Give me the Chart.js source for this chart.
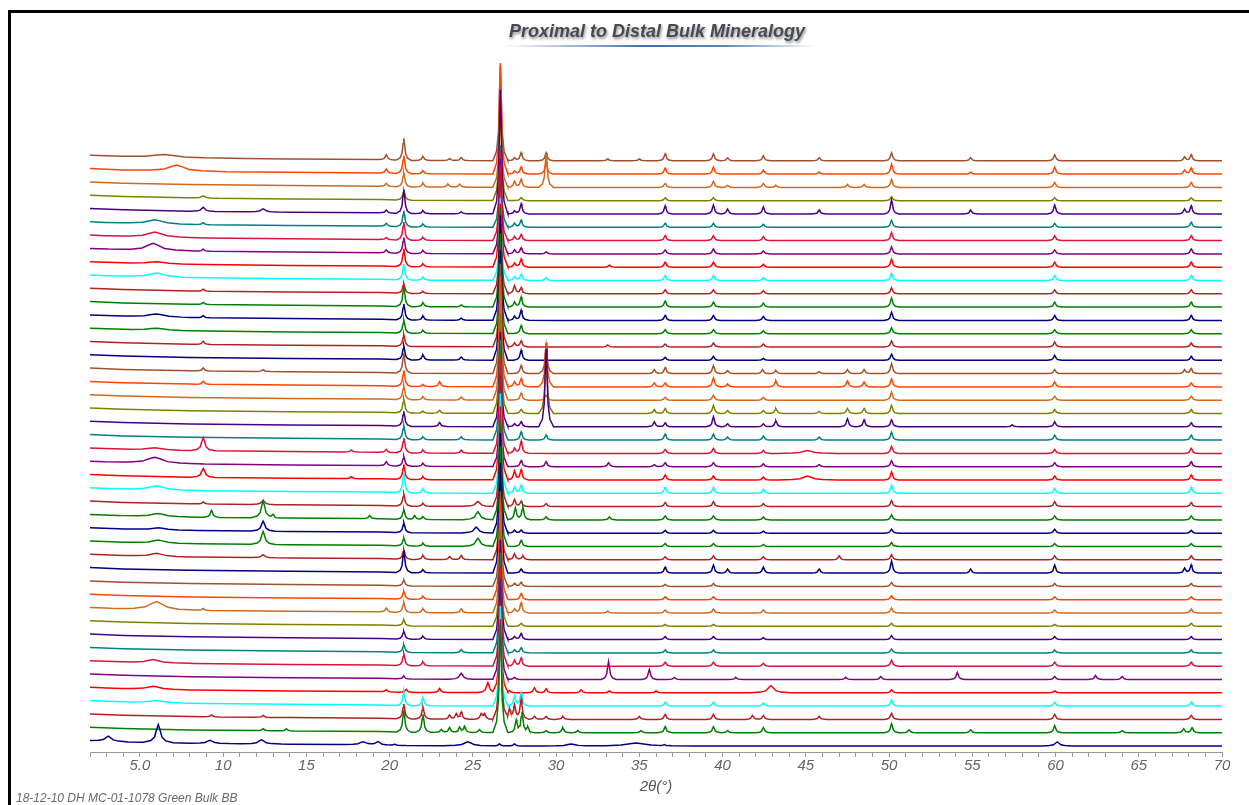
<!DOCTYPE html>
<html lang="en">
<head>
<meta charset="UTF-8">
<title>Proximal to Distal Bulk Mineralogy</title>
<script src="https://cdn.jsdelivr.net/npm/chart.js"></script>
<style>
  body { margin: 0; background: #fff; overflow: hidden; font-family: Arial, "Liberation Sans", sans-serif; }
  .frame { position: absolute; left: 8px; top: 10px; width: 1400px; height: 900px; border-left: 3px solid #000; border-top: 3px solid #000; }
  #xrd { position: absolute; left: 0; top: 0; }
  .title { position: absolute; left: 657px; top: 21px; transform: translateX(-50%); white-space: nowrap;
           font: italic bold 18px Arial, "Liberation Sans", sans-serif; color: #474a55;
           text-shadow: 1px 2px 3px rgba(0,0,0,0.45); }
  .title-rule { position: absolute; left: 503px; top: 45px; width: 314px; height: 2px;
                background: linear-gradient(to right, rgba(63,111,168,0), #3f6fa8 45%, #5b86b8 70%, rgba(63,111,168,0)); }
  .note { position: absolute; left: 16px; top: 791px; font: italic 12px Arial, "Liberation Sans", sans-serif; color: #6a6a6a; white-space: nowrap; }
</style>
</head>
<body>
<div class="frame"></div>
<canvas id="xrd" width="1249" height="805"></canvas>
<div class="title">Proximal to Distal Bulk Mineralogy</div>
<div class="title-rule"></div>
<div class="note">18-12-10 DH MC-01-1078 Green Bulk BB</div>

<script>
// 2-theta range and tick labelling
const X_MIN = 2, X_MAX = 70;
const LABEL_EVERY = 5;

// vertical spacing between stacked patterns and base offset of the lowest one
const STACK_STEP = 13.3;
const STACK_BASE = 6;
const Y_TOP = 697;

// low-angle background common to every pattern [2theta, counts]
const BG = [[2, 5.5], [4, 4.2], [8, 2.8], [14, 1.8], [19.5, 1.2], [21, 0.4], [30, 0], [70, 0]];

// peak profile, in units of half-width: [offset, fraction of height]
const PROFILE = [[-6, 0], [-3, 0.1], [-1.5, 0.3], [-0.6, 0.75], [0, 1], [0.6, 0.75], [1.5, 0.3], [3, 0.1], [6, 0]];
const W0 = 0.075;

// line colours, top pattern first (repeats every 16)
const COLORS = ['#a0522d', '#ff4500', '#d2691e', '#808000', '#4b0082', '#008080', '#dc143c', '#800080',
                '#ff0000', '#00ffff', '#b22222', '#008000', '#000080', '#008000', '#b22222', '#000080'];

// peaks per sample, top to bottom: [2theta, height, half-width?]
const s00 = [[6.5,3,0.8],[19.8,5],[20.85,22],[22.0,4],[23.6,2],[24.3,3],[26.65,95],[27.5,3],[27.9,8],[29.4,8],[33.1,2],[35.0,2],[36.55,7],[39.45,7],[40.3,3],[42.45,5],[45.8,3],[50.15,8],[54.9,3],[59.95,6],[67.75,4],[68.15,6]];
const s01 = [[7.2,6,0.5],[19.8,4],[20.85,18],[22.0,3],[26.65,111],[27.5,3],[27.9,7],[29.4,12],[36.55,6],[39.45,7],[42.45,4],[45.8,2],[50.15,10],[54.9,2],[59.95,7],[67.75,4],[68.15,6]];
const s02 = [[19.8,3],[20.85,14],[22.0,4],[23.5,3],[24.2,3],[26.65,95],[27.5,6],[27.9,8],[29.4,33],[36.55,4],[39.45,6],[40.3,2],[42.45,4],[43.2,2],[47.5,3],[48.5,3],[50.15,8],[59.95,5],[68.15,5]];
const s03 = [[8.8,2,0.15],[20.85,10],[26.65,100],[27.9,3],[36.55,3],[39.45,3],[50.15,4],[59.95,3],[68.15,3]];
const s04 = [[8.8,4,0.12],[12.4,3,0.15],[19.8,3],[20.85,24],[22.0,3],[24.3,2],[26.65,124],[27.5,3],[27.9,10],[36.55,8],[39.45,9],[40.3,5],[42.45,7],[45.8,4],[50.15,14],[54.9,4],[59.95,9],[67.75,5],[68.15,8]];
const s05 = [[5.9,4,0.5],[8.8,2],[19.8,3],[20.85,16],[22.0,3],[26.65,82],[27.5,4],[27.9,7],[36.55,4],[39.45,4],[42.45,3],[50.15,7],[59.95,4],[68.15,5]];
const s06 = [[5.9,5,0.5],[19.8,2],[20.85,18],[22.0,3],[26.65,90],[27.5,4],[27.9,6],[36.55,5],[39.45,5],[42.45,4],[50.15,8],[59.95,5],[68.15,5]];
const s07 = [[5.8,7,0.45],[8.8,2],[19.8,3],[20.85,16],[22.0,3],[26.65,95],[27.5,4],[27.9,6],[29.4,2],[36.55,4],[39.45,5],[42.45,3],[50.15,7],[59.95,4],[68.15,5]];
const s08 = [[6.0,2,0.5],[20.85,18],[22.0,3],[26.65,102],[27.5,4],[27.9,8],[33.2,2],[36.55,5],[39.45,5],[42.45,3],[50.15,8],[59.95,5],[68.15,5]];
const s09 = [[6.0,4,0.5],[20.85,16],[22.0,3],[26.65,82],[27.5,4],[27.9,6],[29.4,3],[36.55,5],[39.45,5],[42.45,3],[50.15,7],[59.95,5],[68.15,5]];
const s10 = [[8.8,2],[20.85,10],[22.0,2],[26.65,90],[27.5,8],[27.9,6],[36.55,4],[39.45,4],[42.45,3],[50.15,6],[59.95,4],[68.15,4]];
const s11 = [[8.8,2],[20.85,20],[22.0,4],[24.3,2],[26.65,100],[27.5,5],[27.9,10],[36.55,6],[39.45,5],[42.45,4],[50.15,9],[59.95,5],[68.15,5]];
const s12 = [[6.0,3,0.5],[8.8,2],[20.85,16],[22.0,4],[24.3,2],[26.65,105],[27.5,4],[27.9,10],[36.55,5],[39.45,5],[42.45,4],[50.15,8],[59.95,5],[68.15,5]];
const s13 = [[6.0,2,0.5],[20.85,13],[22.0,3],[26.65,100],[27.9,8],[36.55,4],[39.45,4],[42.45,3],[50.15,6],[59.95,4],[68.15,4]];
const s14 = [[8.8,3],[20.85,12],[26.65,100],[27.5,4],[27.9,6],[33.1,2],[36.55,3],[39.45,4],[42.45,3],[50.15,6],[59.95,5],[68.15,4]];
const s15 = [[20.85,14],[22.0,5],[24.3,3],[26.65,110],[27.9,10],[36.55,3],[39.45,4],[42.45,2],[50.15,6],[59.95,5],[68.15,4]];
const s16 = [[8.8,3],[12.4,2],[20.85,20],[26.65,110],[27.9,8],[29.4,28],[35.9,4],[36.55,6],[39.45,8],[40.3,3],[42.4,4],[43.2,3],[45.8,2],[47.5,4],[48.5,4],[50.15,10],[59.95,4],[67.75,4],[68.15,5]];
const s17 = [[8.8,3],[20.85,16],[22.0,2],[23.0,5],[26.65,110],[27.5,5],[27.9,8],[29.4,44],[35.9,4],[36.55,4],[39.45,9],[40.3,3],[43.2,6],[47.5,6],[48.5,5],[50.15,8],[59.95,5],[68.15,4]];
const s18 = [[20.85,14],[22.0,3],[24.3,3],[26.65,105],[27.9,7],[29.4,5],[36.55,3],[39.45,5],[42.45,3],[50.15,8],[59.95,4],[68.15,4]];
const s19 = [[20.85,14],[22.0,2],[23.0,3],[26.65,100],[27.9,4],[29.4,60],[35.9,4],[36.55,5],[39.45,8],[40.3,3],[42.45,3],[43.2,5],[45.8,2],[47.5,5],[48.5,5],[50.15,8],[59.95,4],[68.15,4]];
const s20 = [[20.85,15],[23.0,4],[26.65,95],[27.5,3],[27.9,5],[29.4,78],[35.9,5],[36.55,4],[39.45,10],[40.3,3],[42.45,3],[43.2,6],[47.5,8],[48.5,7],[50.15,7],[57.4,2],[59.95,5],[68.15,4]];
const s21 = [[20.85,14],[22.0,3],[24.3,3],[26.65,100],[27.9,8],[29.4,5],[36.55,6],[39.45,6],[40.3,3],[42.45,4],[45.8,3],[50.15,8],[59.95,5],[68.15,5]];
const s22 = [[5.9,2,0.5],[8.8,13,0.12],[17.7,2],[19.8,3],[20.85,15],[22.0,3],[24.3,3],[26.65,95],[27.5,5],[27.9,12],[36.55,4],[39.45,5],[42.45,3],[45.1,3,0.3],[50.15,7],[59.95,4],[68.15,5]];
const s23 = [[5.9,6,0.5],[19.8,4],[20.85,10],[22.0,3],[26.65,90],[27.9,6],[29.4,5],[33.15,4],[35.9,2],[36.55,4],[39.45,4],[42.45,3],[45.8,2],[50.15,6],[59.95,4],[68.15,5]];
const s24 = [[8.8,9,0.12],[17.7,2],[20.85,15],[22.0,3],[26.65,105],[27.5,9],[27.9,10],[36.55,5],[39.45,4],[42.45,3],[45.1,4,0.3],[50.15,8],[59.95,4],[68.15,5]];
const s25 = [[6.0,4,0.5],[20.85,20],[22.0,4],[26.65,100],[27.5,6],[27.9,8],[36.55,6],[39.45,6],[42.45,4],[50.15,8],[59.95,5],[68.15,6]];
const s26 = [[8.8,2],[12.4,4,0.12],[20.85,12],[22.0,3],[25.3,5,0.15],[26.65,100],[27.5,7],[27.9,5],[29.4,3],[36.55,4],[39.45,5],[42.45,3],[50.15,6],[59.95,5],[68.15,4]];
const s27 = [[6.1,3,0.4],[9.3,7,0.08],[12.4,17,0.12],[13.0,3],[18.8,3],[20.85,10],[21.5,4],[22.0,3],[25.3,8,0.15],[26.65,100],[27.55,12],[28.0,13],[29.4,3],[33.2,3],[36.55,4],[39.45,4],[42.45,3],[50.15,5],[59.95,4],[68.15,4]];
const s28 = [[6.1,2,0.4],[12.4,10,0.12],[20.85,10],[25.2,6,0.15],[26.65,100],[27.5,3],[27.9,3],[36.55,3],[39.45,3],[42.45,2],[50.15,4],[59.95,4],[68.15,3]];
const s29 = [[6.1,3,0.4],[12.4,13,0.12],[20.85,8],[22.0,3],[25.3,8,0.15],[26.65,100],[27.9,6],[36.55,3],[39.45,3],[42.45,2],[50.15,4],[59.95,3],[68.15,3]];
const s30 = [[6.0,3,0.4],[12.4,3,0.12],[20.85,10],[22.0,4],[23.6,3],[24.3,4],[26.65,95],[27.5,6],[28.0,4],[36.55,3],[39.45,4],[42.45,3],[47.0,4],[50.15,5],[59.95,4],[68.15,4]];
const s31 = [[20.85,22],[22.0,3],[26.65,110],[27.9,4],[36.55,6],[39.45,8],[40.3,4],[42.45,6],[45.8,4],[50.15,12],[54.9,4],[59.95,8],[67.75,5],[68.15,8]];
const s32 = [[20.85,6],[26.65,95],[27.5,3],[27.9,4],[36.55,2],[39.45,3],[50.15,4],[59.95,3],[68.15,3]];
const s33 = [[20.85,8],[22.0,3],[26.65,100],[27.9,6],[36.55,3],[39.45,3],[50.15,4],[59.95,3],[68.15,3]];
const s34 = [[6.0,8,0.45],[8.8,2],[19.8,4],[20.85,10],[22.0,4],[24.3,4],[26.65,100],[27.5,4],[27.9,10],[33.1,2],[36.55,3],[39.45,4],[42.45,3],[50.15,5],[59.95,3],[68.15,4]];
const s35 = [[20.85,6],[26.65,95],[27.9,3],[36.55,2],[39.45,2],[50.15,3],[59.95,2],[68.15,3]];
const s36 = [[20.85,8],[22.0,3],[26.65,100],[27.5,3],[27.9,6],[36.55,3],[39.45,3],[42.45,2],[50.15,4],[59.95,3],[68.15,3]];
const s37 = [[20.85,8],[24.3,3],[26.65,100],[27.5,3],[27.9,5],[36.55,3],[39.45,3],[50.15,4],[59.95,3],[68.15,3]];
const s38 = [[5.8,3,0.4],[20.85,12],[22.0,4],[26.65,100],[27.5,6],[27.9,8],[36.55,4],[39.45,4],[42.45,3],[50.15,6],[59.95,4],[68.15,4]];
const s39 = [[20.85,3],[24.3,6,0.12],[26.65,100],[27.5,2],[33.15,18],[35.6,10],[37.1,2],[40.8,2],[47.4,2],[49.5,3],[54.1,7],[59.95,3],[62.4,4],[64.0,3]];
const s40 = [[5.8,3,0.4],[19.8,2],[21.0,3],[23.0,4],[25.9,10,0.1],[26.65,90],[27.2,2],[28.7,5],[29.4,4],[31.5,3],[33.2,2],[36.0,2],[42.9,7,0.2],[50.15,3],[59.95,2]];
const s41 = [[6.0,2,0.5],[20.85,14],[22.0,8],[26.65,100],[27.5,10],[27.9,13],[36.55,4],[39.45,4],[42.45,3],[50.15,6],[59.95,4],[68.15,4]];
const s42 = [[9.3,2],[12.4,2],[20.85,15],[22.0,12],[23.6,4],[24.0,5],[24.3,7],[25.5,5],[25.7,5],[26.65,100],[27.2,10],[27.5,14],[27.9,20],[28.7,3],[29.4,3],[30.4,3],[35.0,3],[36.55,5],[39.45,5],[41.8,4],[42.45,4],[45.8,3],[50.15,6],[59.95,5],[68.15,4]];
const s43 = [[12.4,2],[13.8,2],[20.85,22],[22.0,18],[23.1,3],[23.6,5],[24.2,5],[24.5,6],[25.4,3],[26.65,110],[27.6,12],[27.95,20],[28.3,5],[29.4,2],[30.4,5],[31.3,2],[35.1,2],[36.55,6],[39.45,6],[40.3,2],[42.45,5],[50.15,9],[51.2,3],[54.9,3],[59.95,7],[64.0,2],[67.7,4],[68.2,5]];
const s44 = [[3.1,5,0.2],[6.1,18,0.15],[9.2,3,0.2],[12.3,4,0.2],[18.4,3,0.2],[19.3,3,0.15],[20.3,1],[24.7,4,0.25],[26.6,2],[27.5,2],[30.9,2,0.3],[34.8,3,0.6],[36.5,1],[60.1,4,0.15]];

const SAMPLES = [s00, s01, s02, s03, s04, s05, s06, s07, s08, s09, s10, s11, s12, s13, s14, s15,
                 s16, s17, s18, s19, s20, s21, s22, s23, s24, s25, s26, s27, s28, s29, s30, s31,
                 s32, s33, s34, s35, s36, s37, s38, s39, s40, s41, s42, s43, s44];

// piecewise-linear lookup in a sorted [[x, y], ...] table
function lookup(table, x) {
  if (x <= table[0][0]) return table[0][1];
  for (let i = 1; i < table.length; i++) {
    if (x <= table[i][0]) {
      const [x0, y0] = table[i - 1], [x1, y1] = table[i];
      return y0 + (y1 - y0) * (x - x0) / (x1 - x0);
    }
  }
  return table[table.length - 1][1];
}

function pattern(peaks, offset) {
  const xs = new Set([X_MIN, X_MAX]);
  BG.forEach(p => xs.add(p[0]));
  peaks.forEach(([c, h, w = W0]) => PROFILE.forEach(([k]) => xs.add(+(c + k * w).toFixed(4))));
  const sorted = [...xs].filter(x => x >= X_MIN && x <= X_MAX).sort((a, b) => a - b);
  return sorted.map(x => {
    let y = offset + lookup(BG, x);
    peaks.forEach(([c, h, w = W0]) => {
      const u = (x - c) / w;
      if (u > -6 && u < 6) y += h * lookup(PROFILE, u);
    });
    return { x, y };
  });
}

const n = SAMPLES.length;
// bottom pattern first so lower traces paint over the ones above
const datasets = SAMPLES.map((peaks, i) => ({
  data: pattern(peaks, STACK_BASE + STACK_STEP * (n - 1 - i)),
  borderColor: COLORS[i % COLORS.length],
  borderWidth: 1.5,
  pointRadius: 0,
  tension: 0,
  fill: false
})).reverse();

Chart.defaults.font.family = 'Arial, "Liberation Sans", sans-serif';

new Chart(document.getElementById('xrd'), {
  type: 'line',
  data: { datasets },
  options: {
    responsive: false,
    animation: false,
    parsing: false,
    layout: { padding: { left: 90, right: 27, top: 55, bottom: 9 } },
    plugins: { legend: { display: false }, tooltip: { enabled: false } },
    scales: {
      x: {
        type: 'linear',
        min: X_MIN,
        max: X_MAX,
        border: { color: '#9a9a9a', width: 1 },
        grid: { drawOnChartArea: false, tickLength: 5, color: '#9a9a9a' },
        ticks: {
          stepSize: 1,
          autoSkip: false,
          maxRotation: 0,
          padding: 0,
          color: '#666',
          font: { size: 15, style: 'italic' },
          callback: v => v % LABEL_EVERY === 0 ? (v < 10 ? v.toFixed(1) : String(v)) : ''
        },
        title: { display: true, text: '2θ(°)', color: '#555', font: { size: 15, style: 'italic' }, padding: { top: 3, bottom: 0 } }
      },
      y: { display: false, min: 0, max: Y_TOP }
    }
  }
});
</script>
</body>
</html>
